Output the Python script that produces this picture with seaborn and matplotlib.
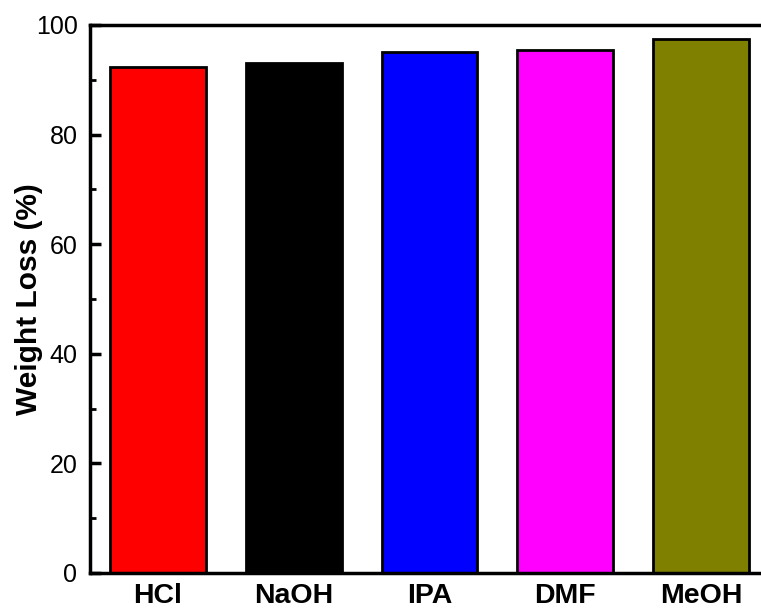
import matplotlib
matplotlib.use("Agg")
import matplotlib.pyplot as plt
import seaborn as sns
import pandas as pd
from matplotlib.ticker import MultipleLocator

categories = ["HCl", "NaOH", "IPA", "DMF", "MeOH"]
values = [92.4, 93.1, 95.1, 95.4, 97.4]
colors = ["#ff0000", "#000000", "#0000ff", "#ff00ff", "#808000"]
y_ticks = [0, 20, 40, 60, 80, 100]

sns.set_theme(style="ticks")
plt.rcParams["font.family"] = ["Liberation Sans", "DejaVu Sans"]
plt.rcParams["text.color"] = "black"
plt.rcParams["axes.labelcolor"] = "black"
plt.rcParams["xtick.color"] = "black"
plt.rcParams["ytick.color"] = "black"

df = pd.DataFrame({"cat": categories, "val": values})

fig = plt.figure(figsize=(7.61, 6.08), dpi=100)
ax = fig.add_axes([90 / 761, 35 / 608, 679 / 761, 548 / 608])

sns.barplot(data=df, x="cat", y="val", hue="cat", palette=colors,
            order=categories, hue_order=categories, legend=False,
            width=0.706, edgecolor="black", linewidth=2.0, saturation=1, ax=ax)

ax.set_xlim(-0.5, 4.5)
ax.set_ylim(0, 100)
ax.set_yticks(y_ticks)
ax.yaxis.set_minor_locator(MultipleLocator(10))
ax.set_xlabel("")
ax.set_ylabel("Weight Loss (%)", fontsize=21.5, fontweight="bold",
              labelpad=-5, color="black")
ax.tick_params(axis="y", which="major", direction="in", length=8, width=2.5,
               labelsize=18, pad=9, left=True, right=False, colors="black")
ax.tick_params(axis="y", which="minor", direction="in", length=4, width=2.0,
               colors="black")
ax.tick_params(axis="x", which="major", length=0, labelsize=20.5, pad=7,
               colors="black")
for lab in ax.get_xticklabels():
    lab.set_fontweight("bold")
for sp in ax.spines.values():
    sp.set_linewidth(2.5)
    sp.set_color("black")
    sp.set_visible(True)

fig.savefig("out.png", dpi=100)
